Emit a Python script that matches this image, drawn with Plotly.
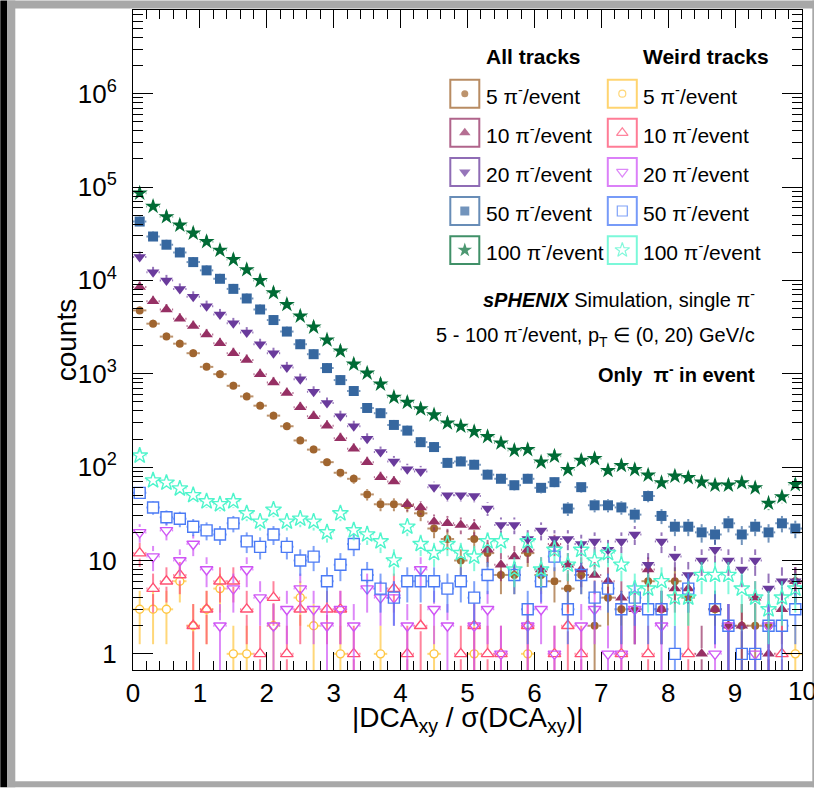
import plotly.graph_objects as go
import math

# ---------------- data ----------------
bin_centers = [0.1, 0.3, 0.5, 0.7, 0.9, 1.1, 1.3, 1.5, 1.7, 1.9,
               2.1, 2.3, 2.5, 2.7, 2.9, 3.1, 3.3, 3.5, 3.7, 3.9,
               4.1, 4.3, 4.5, 4.7, 4.9, 5.1, 5.3, 5.5, 5.7, 5.9,
               6.1, 6.3, 6.5, 6.7, 6.9, 7.1, 7.3, 7.5, 7.7, 7.9,
               8.1, 8.3, 8.5, 8.7, 8.9, 9.1, 9.3, 9.5, 9.7, 9.9]
bin_half_width = 0.1

all_5 = [4770, 3440, 2500, 2100, 1660, 1185, 990, 743, 572, 455,
         356, 274, 193, 154, 113, 87, 75, 51, 40, 40,
         39, 32, 22, 17, 10, 17, 12, 7, 7, 12,
         7, 6, 5, 7, 2, 4, 3, 3, 6, 3,
         6, 4, None, 3, 2, 2, 2, 2, None, 6]
all_10 = [8520, 5980, 4880, 3890, 3240, 2640, 2120, 1660, 1407, 990,
          808, 621, 437, 351, 278, 204, 157, 113, 78, 70,
          40, 37, 26, 25, 24, 23, 13, 9, 11, 13,
          8, 15, 9, 8, 7, 6, 4, 3, 8, 3,
          5, 5, 1, 3, 2, 2, 4, 1, 3, 6]
all_20 = [17800, 12200, 10000, 8100, 6670, 5300, 4320, 3465, 2760, 2070,
          1660, 1170, 875, 641, 486, 351, 274, 201, 145, 115,
          95, 90, 61, 50, 50, 49, 36, 24, 24, 17,
          21, 17, 17, 15, 16, 13, 16, 19, 9, 16,
          11, 7, 10, 13, 10, 8, 10, 5, 6, 6]
all_50 = [42700, 29500, 24100, 19900, 15700, 12800, 10400, 8110, 6400, 4880,
          3760, 2830, 2070, 1620, 1150, 855, 653, 430, 378, 283,
          246, 185, 164, 111, 115, 106, 83, 75, 64, 75,
          60, 69, 36, 61, 39, 39, 37, 31, 49, 30,
          23, 23, 20, 19, 25, 19, 23, 20, 25, 22]
all_100 = [86000, 62000, 48000, 39000, 32000, 26000, 21000, 16700, 13000, 9950,
           7360, 5520, 4140, 3160, 2300, 1750, 1265, 1015, 775, 560,
           494, 420, 362, 297, 274, 240, 212, 181, 151, 154,
           113, 131, 94, 118, 123, 92, 104, 94, 82, 68,
           80, 77, 69, 64, 64, 68, 60, 41, 48, 65]

weird_5 = [3, 3, 3, 6, 2, 3, 5, 1, 1, None,
           2, None, 4, 2, None, 1, None, None, 1, None,
           None, None, 1, None, None, 1, None, None, None, 1,
           None, None, None, None, None, None, None, None, None, None,
           None, None, None, None, None, None, None, None, None, 1]
weird_10 = [12, 5, 6, 7, 2, 3, 6, 6, 3, 1,
            4, 1, 3, None, 3, 3, 1, None, None, 5,
            1, 2, None, None, 1, 2, 1, 1, None, 2,
            None, 1, 2, 1, None, None, 1, None, 1, None,
            None, 1, None, None, None, None, None, None, 1, None]
weird_20 = [20, 11, 21, 10, 15, 8, 2, 5, 8, 4,
            2, 3, 5, 3, 2, 3, 2, 5, 4, 4,
            2, 8, 3, 2, None, 2, 3, 1, None, 2,
            3, 1, None, 2, 3, 1, 1, 3, None, 2,
            None, None, None, 1, 2, None, 1, 2, None, None]
weird_50 = [53, 37, 29, 28, 23, 21, 19, 25, 16, 14,
            19, 14, 10, 11, 6, 9, 15, 7, 5, 4,
            6, 6, 6, 5, 6, 4, 7, None, 7, 3,
            6, 11, 3, 7, 4, 5, 3, 4, 3, 3,
            1, 5, None, 3, 2, 1, 1, 2, 2, 3]
weird_100 = [133, 72, 68, 59, 50, 43, 40, 43, 32, 26,
             35, 26, 28, 26, 20, 32, 21, 19, 16, 10,
             23, 15, 12, 15, 12, 11, 16, 16, 8, 16,
             8, 13, 9, 13, 10, 12, 9, 5, 5, 6,
             4, 4, 7, 7, 7, 5, 4, 3, 4, 5]

series_labels = ["5 π<sup>-</sup>/event", "10 π<sup>-</sup>/event", "20 π<sup>-</sup>/event",
                 "50 π<sup>-</sup>/event", "100 π<sup>-</sup>/event"]
all_series = [all_5, all_10, all_20, all_50, all_100]
weird_series = [weird_5, weird_10, weird_20, weird_50, weird_100]

y_tick_vals = [1, 10, 100, 1000, 10000, 100000, 1000000]
y_tick_text = ["1", "10", "10<sup>2</sup>", "10<sup>3</sup>", "10<sup>4</sup>", "10<sup>5</sup>", "10<sup>6</sup>"]
x_tick_vals = [0, 1, 2, 3, 4, 5, 6, 7, 8, 9, 10]
x_tick_text = ["0", "1", "2", "3", "4", "5", "6", "7", "8", "9", "10"]

# ---------------- styles ----------------
all_colors = ["#a0652f", "#963064", "#6a3b9c", "#36679f", "#006b35"]
all_symbols = ["circle", "triangle-up", "triangle-down", "square", "star"]
all_sizes = [8, 11, 11, 10, 12]
weird_colors = ["#ffc640", "#ff5073", "#cf55f5", "#4a7af5", "#4ff5cc"]
weird_symbols = ["circle-open", "triangle-up-open", "triangle-down-open", "square-open", "star-open"]
weird_sizes = [8, 11, 11, 11, 12]

FONT = "Liberation Sans, Arial, Helvetica, sans-serif"
W, H = 814, 788
PX_L, PX_R, PX_T, PX_B = 132.7, 801.7, 9.5, 670.5
Y_RANGE = [-0.173, 6.896]
X_RANGE = [0, 10]
PX_PER_X = (PX_R - PX_L) / (X_RANGE[1] - X_RANGE[0])
PX_PER_DECADE = (PX_B - PX_T) / (Y_RANGE[1] - Y_RANGE[0])


def px_x(px):
    return (px - PX_L) / (PX_R - PX_L)


def px_y(py):
    return (PX_B - py) / (PX_B - PX_T)


def rgba(hexc, a):
    h = hexc.lstrip("#")
    return "rgba(%d,%d,%d,%.2f)" % (int(h[0:2], 16), int(h[2:4], 16), int(h[4:6], 16), a)


fig = go.Figure()


def add_errors(vals, color, size):
    # error bars that stop at the marker edge (ROOT style)
    half = size / 2.0
    fy = 10 ** (half / PX_PER_DECADE)
    dx = half / PX_PER_X
    sx, sy = [], []
    for x, v in zip(bin_centers, vals):
        if v is None:
            continue
        e = math.sqrt(v)
        lo = max(v - e, 1e-3)
        hi = v + e
        if v / fy > lo:
            sx += [x, x, None]
            sy += [lo, v / fy, None]
        sx += [x, x, None]
        sy += [v * fy, hi, None]
        sx += [x - bin_half_width, x - dx, None, x + dx, x + bin_half_width, None]
        sy += [v, v, None, v, v, None]
    fig.add_trace(go.Scatter(x=sx, y=sy, mode="lines", showlegend=False, hoverinfo="skip",
                             line=dict(color=rgba(color, 0.7), width=2), connectgaps=False))


def add_markers(vals, color, symbol, size, lw):
    xs = [x for x, v in zip(bin_centers, vals) if v is not None]
    ys = [v for v in vals if v is not None]
    fig.add_trace(go.Scatter(
        x=xs, y=ys, mode="markers", showlegend=False,
        marker=dict(symbol=symbol, size=size, color=color,
                    line=dict(color=color, width=lw)),
    ))


for vals, c, s, sz in zip(all_series, all_colors, all_symbols, all_sizes):
    add_errors(vals, c, sz)
    add_markers(vals, c, s, sz, 0)
for vals, c, s, sz in zip(weird_series, weird_colors, weird_symbols, weird_sizes):
    add_errors(vals, c, sz)
    add_markers(vals, c, s, sz, 1.4)

# ---------------- custom legend ----------------
leg_col_box_x = [464.5, 622.0]
leg_col_text_x = [484.0, 641.0]
leg_row_y = [93.3, 132.5, 171.7, 210.8, 250.0]
leg_box_half = 14.5
annotations = []
shapes = []

for ci, (colors, symbols, sizes) in enumerate([(all_colors, all_symbols, all_sizes),
                                               (weird_colors, weird_symbols, weird_sizes)]):
    fig.add_trace(go.Scatter(
        x=[px_x(leg_col_box_x[ci])] * 5, y=[px_y(r) for r in leg_row_y],
        xaxis="x2", yaxis="y2", mode="markers", showlegend=False, hoverinfo="skip",
        marker=dict(symbol=symbols, size=[s - 1 for s in sizes], color=colors,
                    line=dict(color=colors, width=0 if ci == 0 else 1.2)),
        cliponaxis=False,
    ))
    for ri, r in enumerate(leg_row_y):
        shapes.append(dict(type="rect", xref="paper", yref="paper",
                           x0=px_x(leg_col_box_x[ci] - leg_box_half), x1=px_x(leg_col_box_x[ci] + leg_box_half),
                           y0=px_y(r + 14), y1=px_y(r - 14),
                           line=dict(color=rgba(colors[ri], 0.75), width=2), layer="above"))
        annotations.append(dict(xref="paper", yref="paper", x=px_x(leg_col_text_x[ci]), y=px_y(r + 1),
                                text=series_labels[ri], showarrow=False, xanchor="left", yanchor="middle",
                                font=dict(family=FONT, size=21, color="black")))

annotations.append(dict(xref="paper", yref="paper", x=px_x(533), y=px_y(56), text="<b>All tracks</b>",
                        showarrow=False, xanchor="center", yanchor="middle",
                        font=dict(family=FONT, size=21, color="black")))
annotations.append(dict(xref="paper", yref="paper", x=px_x(706), y=px_y(56), text="<b>Weird tracks</b>",
                        showarrow=False, xanchor="center", yanchor="middle",
                        font=dict(family=FONT, size=21, color="black")))

# text block
annotations.append(dict(xref="paper", yref="paper", x=px_x(757), y=px_y(298),
                        text="<b><i>sPHENIX</i></b> Simulation, single π<sup>-</sup>",
                        showarrow=False, xanchor="right", yanchor="middle",
                        font=dict(family=FONT, size=20, color="black")))
annotations.append(dict(xref="paper", yref="paper", x=px_x(757), y=px_y(335),
                        text="5 - 100 π<sup>-</sup>/event, p<sub>T</sub> ∈ (0, 20) GeV/c",
                        showarrow=False, xanchor="right", yanchor="middle",
                        font=dict(family=FONT, size=20, color="black")))
annotations.append(dict(xref="paper", yref="paper", x=px_x(757), y=px_y(374),
                        text="<b>Only  π<sup>-</sup> in event</b>",
                        showarrow=False, xanchor="right", yanchor="middle",
                        font=dict(family=FONT, size=20, color="black")))

# last x tick label (would be hidden by plotly because it runs past the page edge)
annotations.append(dict(xref="x", yref="paper", x=x_tick_vals[-1], y=px_y(692),
                        text=x_tick_text[-1], showarrow=False, xanchor="center", yanchor="middle",
                        font=dict(family=FONT, size=26, color="black")))

# axis titles
annotations.append(dict(xref="paper", yref="paper", x=px_x(467), y=px_y(720),
                        text="|DCA<sub>xy</sub> / σ(DCA<sub>xy</sub>)|",
                        showarrow=False, xanchor="center", yanchor="middle",
                        font=dict(family=FONT, size=28, color="black")))
annotations.append(dict(xref="paper", yref="paper", x=px_x(66), y=px_y(340),
                        text="counts", textangle=-90,
                        showarrow=False, xanchor="center", yanchor="middle",
                        font=dict(family=FONT, size=28, color="black")))

# outer frame (canvas border)
grey = "#a8a8a8"
frame = [
    (0, 0, 7, H, "black"),
    (7, 0, W, 8, grey),
    (7, 0, 15, H, grey),
    (7, 782, W, H, grey),
    (812, 0, W, H, grey),
]
for x0, y0, x1, y1, c in frame:
    shapes.append(dict(type="rect", xref="paper", yref="paper",
                       x0=px_x(x0), x1=px_x(x1), y0=px_y(y1), y1=px_y(y0),
                       line=dict(width=0), fillcolor=c, layer="above"))

minor_y = [m * 10 ** k for k in range(0, 7) for m in range(2, 10)]

fig.update_layout(
    width=W, height=H,
    margin=dict(l=PX_L, r=W - PX_R, t=PX_T, b=H - PX_B, pad=0),
    paper_bgcolor="white", plot_bgcolor="white",
    showlegend=False,
    font=dict(family=FONT, color="black"),
    xaxis=dict(range=X_RANGE, showline=True, linecolor="black", linewidth=1, mirror="allticks",
               ticks="inside", ticklen=18, tickwidth=1, tickcolor="black",
               tickvals=x_tick_vals, ticktext=x_tick_text[:-1] + [""],
               tickfont=dict(family=FONT, size=26, color="black"),
               minor=dict(ticks="inside", ticklen=9, dtick=0.2, tick0=0, tickcolor="black", showgrid=False),
               showgrid=False, zeroline=False, ticklabelstandoff=0),
    yaxis=dict(type="log", range=Y_RANGE, showline=True, linecolor="black", linewidth=1,
               mirror="allticks", ticks="inside", ticklen=20, tickwidth=1, tickcolor="black",
               tickvals=y_tick_vals, ticktext=y_tick_text,
               tickfont=dict(family=FONT, size=26, color="black"),
               minor=dict(ticks="inside", ticklen=10, tickvals=minor_y, tickcolor="black", showgrid=False),
               showgrid=False, zeroline=False, ticklabelstandoff=10),
    xaxis2=dict(range=[0, 1], overlaying="x", visible=False, fixedrange=True),
    yaxis2=dict(range=[0, 1], overlaying="y", visible=False, fixedrange=True),
    annotations=annotations,
    shapes=shapes,
)

fig.write_html("out.html", config={"displayModeBar": False},
               post_script="document.body.style.margin='0px';document.body.style.overflow='hidden';")
